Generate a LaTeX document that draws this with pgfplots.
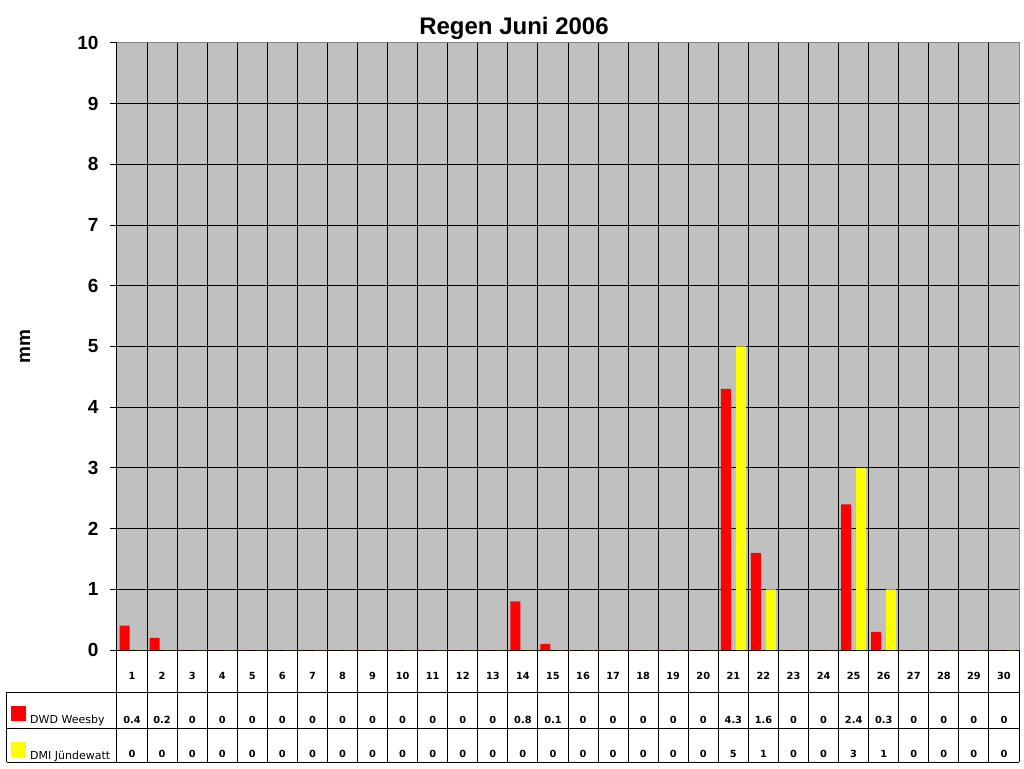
\documentclass[border=0pt]{standalone}
\usepackage{fontspec}
\setmainfont{Liberation Sans}
\newfontfamily\tah{DejaVu Sans}
\usepackage{pgfplots}
\usepackage{pgfplotstable}
\pgfplotsset{compat=1.18}
\definecolor{plotgrey}{RGB}{192,192,192}
\definecolor{framegrey}{RGB}{128,128,128}
\definecolor{dwdred}{RGB}{255,0,0}
\definecolor{dmiyellow}{RGB}{255,255,0}
\pgfplotsset{sqlegend/.style={legend image code/.code={\fill[##1] (0pt,-1pt) rectangle (15pt,14pt);}}}

% daily rain, June 2006 (mm)
\pgfplotstableread{
day dwd dmi
1  0.4 0
2  0.2 0
3  0   0
4  0   0
5  0   0
6  0   0
7  0   0
8  0   0
9  0   0
10 0   0
11 0   0
12 0   0
13 0   0
14 0.8 0
15 0.1 0
16 0   0
17 0   0
18 0   0
19 0   0
20 0   0
21 4.3 5
22 1.6 1
23 0   0
24 0   0
25 2.4 3
26 0.3 1
27 0   0
28 0   0
29 0   0
30 0   0
}\rain

\newcommand\rs{\\[32pt]}
\newcommand\rt{\\[22pt]}

\begin{document}
\begin{tikzpicture}
\begin{axis}[
  scale only axis, width=902pt, height=607pt,
  xmin=0.5, xmax=30.5, ymin=0, ymax=10,
  ybar=5pt, bar width=10pt, clip=false,
  axis background/.style={fill=plotgrey},
  axis line style={black, line width=1pt},
  /pgf/number format/assume math mode=true,
  xtick={1,...,30}, minor xtick={0.5,1.5,...,30.5},
  ytick={0,...,10},
  tick align=outside, xtick pos=bottom, ytick pos=left,
  major tick length=7pt, minor tick length=112pt,
  major x tick style={draw=none},
  minor x tick style={black, line width=1pt},
  y tick style={black, line width=1pt},
  ymajorgrids, xminorgrids,
  major grid style={black, line width=1pt},
  minor grid style={black, line width=1pt},
  yticklabel style={font=\bfseries\fontsize{19}{22}\selectfont, xshift=-8pt},
  xticklabels={
    {1\rs 0.4\rt 0},{2\rs 0.2\rt 0},{3\rs 0\rt 0},{4\rs 0\rt 0},{5\rs 0\rt 0},
    {6\rs 0\rt 0},{7\rs 0\rt 0},{8\rs 0\rt 0},{9\rs 0\rt 0},{10\rs 0\rt 0},
    {11\rs 0\rt 0},{12\rs 0\rt 0},{13\rs 0\rt 0},{14\rs 0.8\rt 0},{15\rs 0.1\rt 0},
    {16\rs 0\rt 0},{17\rs 0\rt 0},{18\rs 0\rt 0},{19\rs 0\rt 0},{20\rs 0\rt 0},
    {21\rs 4.3\rt 5},{22\rs 1.6\rt 1},{23\rs 0\rt 0},{24\rs 0\rt 0},{25\rs 2.4\rt 3},
    {26\rs 0.3\rt 1},{27\rs 0\rt 0},{28\rs 0\rt 0},{29\rs 0\rt 0},{30\rs 0\rt 0}},
  xticklabel style={font=\tah\bfseries\fontsize{9.8}{12}\selectfont, align=center, anchor=north, yshift=-12pt},
  title={Regen Juni 2006},
  title style={font=\bfseries\fontsize{24}{28}\selectfont, at={(rel axis cs:0.4401,1)}, anchor=base, yshift=2pt},
  ylabel={mm},
  ylabel style={font=\bfseries\fontsize{19}{22}\selectfont, at={(rel axis cs:-0.102,0.5)}, anchor=center},
  legend cell align=left,
  legend style={at={(rel axis cs:0,0)}, anchor=north west, xshift=-106pt, yshift=-56pt,
    draw=none, fill=none, inner sep=0pt, row sep=15pt,
    /tikz/every odd column/.append style={column sep=2pt},
    font=\tah\fontsize{11}{13}\selectfont},
]
\addplot[fill=dwdred, draw=none, sqlegend] table[x=day, y=dwd] {\rain};
\addplot[fill=dmiyellow, draw=none, sqlegend] table[x=day, y=dmi] {\rain};
\legend{DWD Weesby, DMI Jündewatt}

% grey top and right frame
\draw[framegrey, line width=1pt] (rel axis cs:0,1) -- (rel axis cs:1,1) -- (rel axis cs:1,0);
% data table rules
\draw[black, line width=1pt] ([xshift=-110pt,yshift=-42pt]rel axis cs:0,0) -- ([yshift=-42pt]rel axis cs:1,0);
\draw[black, line width=1pt] ([xshift=-110pt,yshift=-78pt]rel axis cs:0,0) -- ([yshift=-78pt]rel axis cs:1,0);
\draw[black, line width=1pt] ([xshift=-110pt,yshift=-112pt]rel axis cs:0,0) -- ([yshift=-112pt]rel axis cs:1,0);
\draw[black, line width=1pt] ([xshift=-110pt,yshift=-42pt]rel axis cs:0,0) -- ([xshift=-110pt,yshift=-112pt]rel axis cs:0,0);
\coordinate (bl) at ([xshift=-117pt,yshift=-118pt]rel axis cs:0,0);
\coordinate (tr) at ([xshift=5pt,yshift=43pt]rel axis cs:1,1);
\end{axis}
\pgfresetboundingbox
\path[use as bounding box] (bl) rectangle (tr);
\end{tikzpicture}
\end{document}
